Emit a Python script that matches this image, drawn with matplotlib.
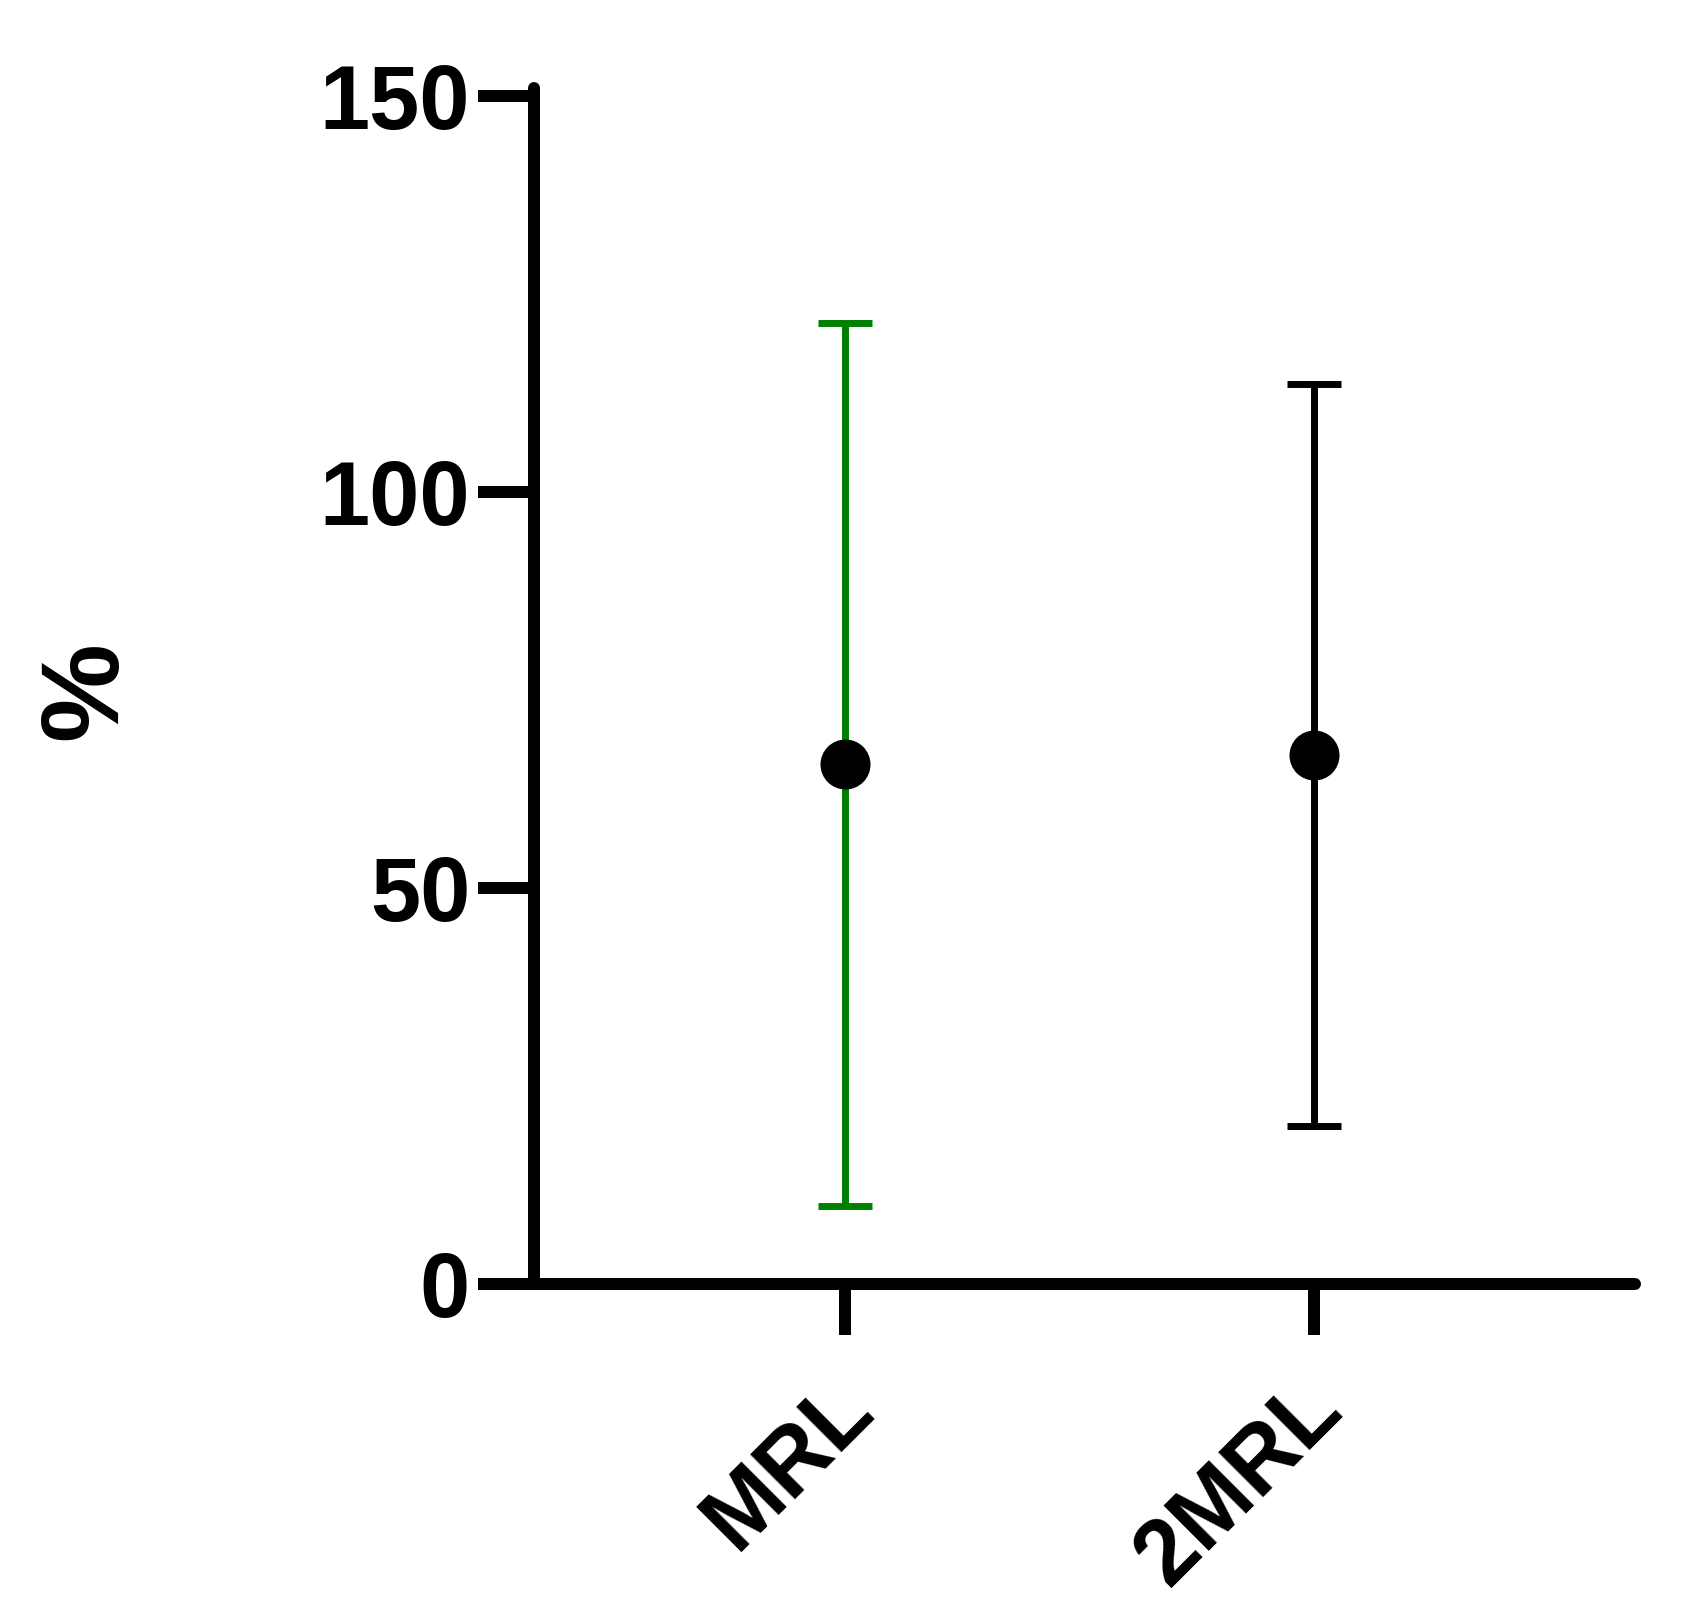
import matplotlib.pyplot as plt
import matplotlib.transforms as mtransforms

# data (mean +/- SD)
grupos = ["MRL", "2MRL"]
medias = [65.6, 66.8]
desvios = [55.8, 46.8]
cores_barra = ["#008000", "#000000"]

yticks = [0, 50, 100, 150]

plt.rcParams["font.family"] = ["Liberation Sans", "DejaVu Sans"]
plt.rcParams["font.weight"] = "bold"

fig = plt.figure(figsize=(16.97, 16.16), dpi=100)
ax = fig.add_axes([534 / 1697, 1 - 1284 / 1616, (1635 - 534) / 1697, (1284 - 96) / 1616])

xs = list(range(1, len(grupos) + 1))
for x, m, s, c in zip(xs, medias, desvios, cores_barra):
    ax.errorbar(x, m, yerr=s, fmt="none", ecolor=c, elinewidth=5,
                capsize=19.5, capthick=5, zorder=2)
    ax.plot(x, m, "o", color="black", markersize=35, zorder=3)

ax.set_xlim(1 - 311 / 469, 2 + 321 / 469)
ax.set_ylim(0, 150)
ax.set_yticks(yticks)
ax.set_xticks(xs)
ax.set_xticklabels(grupos, rotation=45, ha="right", va="center",
                   rotation_mode="anchor")

for lado in ["top", "right"]:
    ax.spines[lado].set_visible(False)
ax.spines["left"].set_bounds(0, 151)
for lado in ["left", "bottom"]:
    ax.spines[lado].set_linewidth(8.64)
    ax.spines[lado].set_capstyle("round")

ax.tick_params(axis="y", length=40, width=8.64, pad=6, labelsize=65)
ax.tick_params(axis="x", length=37, width=8.64, pad=45, labelsize=66)
desloc = mtransforms.ScaledTranslation(14 / 100, 4 / 100, fig.dpi_scale_trans)
for lbl in ax.get_xticklabels():
    lbl.set_fontweight("bold")
    lbl.set_transform(lbl.get_transform() + desloc)
for lbl in ax.get_yticklabels():
    lbl.set_fontweight("bold")

fig.text(87 / 1697, 1 - 691 / 1616, "%", rotation=90, ha="center", va="center",
         fontsize=80, fontweight="bold")

fig.savefig("out.png", dpi=100)
